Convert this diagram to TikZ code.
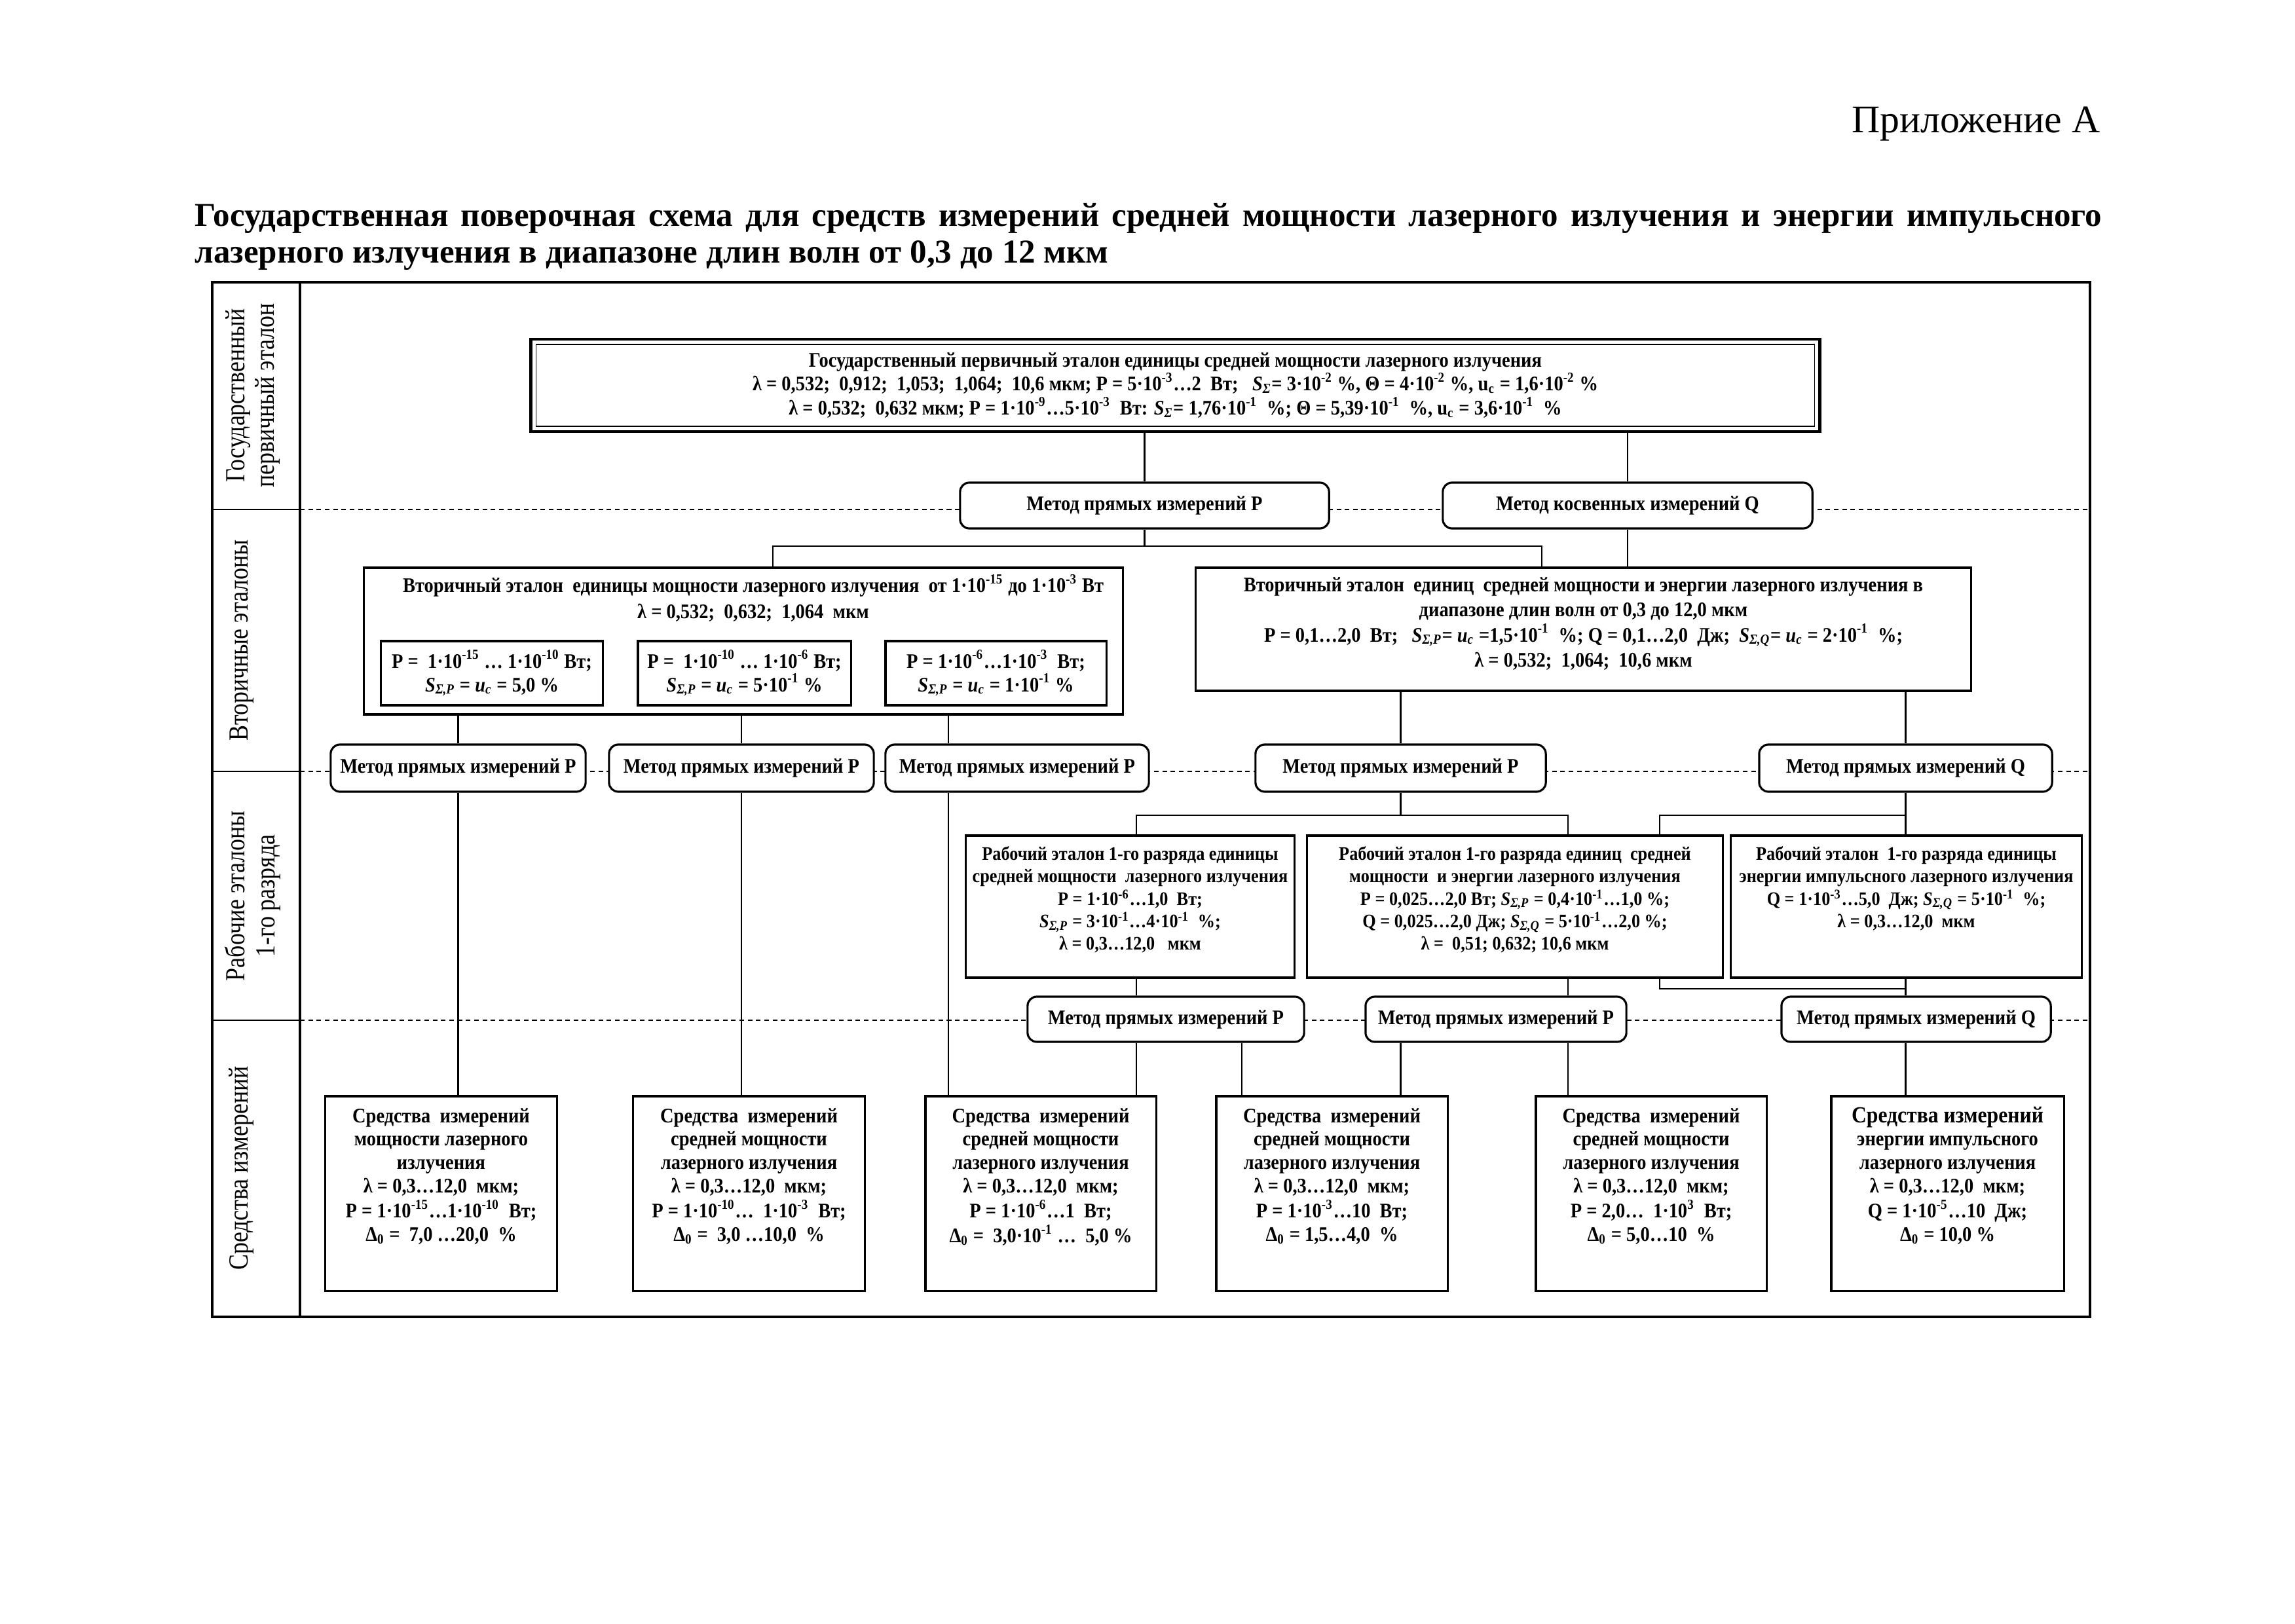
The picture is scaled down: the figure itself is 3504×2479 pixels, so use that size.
\documentclass[tikz,border=0pt]{standalone}
\usepackage{fontspec}
\setmainfont{Liberation Serif}
\newfontfamily\cf{Liberation Serif}[FakeStretch=0.9]
\newfontfamily\cfl{Liberation Serif}[FakeStretch=0.85]
\newcommand\fsz[2]{\fontsize{#1}{#2}\selectfont}
\newcommand\su[1]{\textsuperscript{#1}}
\newcommand\SP{\textit{S}\textsubscript{\textit{Σ,P}}}
\newcommand\SQ{\textit{S}\textsubscript{\textit{Σ,Q}}}
\newcommand\Ss{\textit{S}\textsubscript{\textit{Σ}}}
\newcommand\uc{\textit{u}\textsubscript{\textit{c}}}
\newcommand\uC{u\textsubscript{c}}
\newcommand\Dz{Δ\textsubscript{0}}
\newcommand\tb[4]{\parbox[c][#2][t]{#1}{\vspace*{#3}\centering\begin{tabular}{@{}c@{}}#4\end{tabular}\par}}
\begin{document}
\begin{tikzpicture}[x=0.01cm,y=-0.01cm,
  frm/.style={line width=0.9pt},
  colln/.style={line width=1.3pt},
  conn/.style={line width=0.6pt},
  dsh/.style={line width=0.8pt,dash pattern=on 2pt off 1.6pt},
  meth/.style={draw,line width=0.9pt,rounded corners=4pt,fill=white,inner sep=0pt,font=\cf\bfseries\fsz{9}{10.2}},
  bx/.style={draw,line width=0.9pt,fill=white,inner sep=0pt,outer sep=0pt},
  ws/.style={bx,font=\cf\bfseries\fsz{8.3}{9.8}},
  db/.style={bx,font=\cf\bfseries\fsz{9}{10.2}},
  sb/.style={bx,minimum height=0.98cm,align=center,font=\cf\bfseries\fsz{9}{10.2}},
  lbl/.style={rotate=90,align=center,inner sep=0pt,font=\cfl\fsz{12}{13}}]

\useasboundingbox (0,0) rectangle (3504,2479);

% header
\node[anchor=base east,inner sep=0pt,font=\fsz{17}{20}] (app) at (3207,203) {Приложение А};
\node[anchor=base west,inner sep=0pt,font=\bfseries\fsz{14.5}{17}] (h1) at (297,346) {\makebox[29.1cm][s]{Государственная поверочная схема для средств измерений средней мощности лазерного излучения и энергии импульсного}};
\node[anchor=base west,inner sep=0pt,font=\bfseries\fsz{14.5}{17}] (h2) at (297,402) {лазерного излучения в диапазоне длин волн от 0,3 до 12 мкм};

% frame and level separators
\draw[dsh] (458,778) -- (3191,778);
\draw[dsh] (458,1178) -- (3191,1178);
\draw[dsh] (458,1558) -- (3191,1558);
\draw[frm] (324,431) rectangle (3191,2011);
\draw[colln] (458,431) -- (458,2011);
\draw[conn] (324,778) -- (458,778);
\draw[conn] (324,1178) -- (458,1178);
\draw[conn] (324,1558) -- (458,1558);

% level labels
\node[lbl] (L1) at (386,604) {Государственный\\первичный эталон};
\node[lbl] (L2) at (369,978) {Вторичные эталоны};
\node[lbl] (L3) at (386,1368) {Рабочие эталоны\\1-го разряда};
\node[lbl] (L4) at (369,1784) {Средства измерений};

% primary standard
\node[bx,line width=1.3pt,minimum width=19.67cm,minimum height=1.41cm,align=center,font=\cf\bfseries\fsz{9}{10.5}] (prim) at (1794.5,588.5)
 {Государственный первичный эталон единицы средней мощности лазерного излучения\\
  λ = 0,532;\ \ 0,912;\ \ 1,053;\ \ 1,064;\ \ 10,6 мкм; P = 5·10\su{-3}…2\ \ Вт;\ \ \ \Ss= 3·10\su{-2} \%, Θ = 4·10\su{-2} \%, \uC{} = 1,6·10\su{-2} \%\\
  λ = 0,532;\ \ 0,632 мкм; P = 1·10\su{-9}…5·10\su{-3}\ \ Вт: \Ss= 1,76·10\su{-1}\ \ \%; Θ = 5,39·10\su{-1}\ \ \%, \uC{} = 3,6·10\su{-1}\ \ \%};
\draw[line width=0.5pt] ([shift={(8,8)}]prim.north west) rectangle ([shift={(-8,-8)}]prim.south east);

\node[meth,minimum width=5.63cm,minimum height=0.70cm] (mA) at (1747.5,772) {Метод прямых измерений P};
\node[meth,minimum width=5.64cm,minimum height=0.70cm] (mB) at (2485,772) {Метод косвенных измерений Q};

% secondary standards
\node[bx,font=\cf\bfseries\fsz{9}{11.3}] (sec1) at (1135,979) {\tb{11.58cm}{2.24cm}{0.1cm}{\hspace*{0.3cm}Вторичный эталон\ \ единицы мощности лазерного излучения\ \ от 1·10\su{-15} до 1·10\su{-3} Вт\\ \hspace*{0.3cm}λ = 0,532;\ \ 0,632;\ \ 1,064\ \ мкм}};
\node[sb,minimum width=3.38cm] (s1a) at (751,1028) {P =\ \ 1·10\su{-15} … 1·10\su{-10} Вт;\\ \SP{} = \uc{} = 5,0 \%};
\node[sb,minimum width=3.25cm] (s1b) at (1136.5,1028) {P =\ \ 1·10\su{-10} … 1·10\su{-6} Вт;\\ \SP{} = \uc{} = 5·10\su{-1} \%};
\node[sb,minimum width=3.37cm] (s1c) at (1520.5,1028) {P = 1·10\su{-6}…1·10\su{-3}\ \ Вт;\\ \SP{} = \uc{} = 1·10\su{-1} \%};

\node[bx,font=\cf\bfseries\fsz{9}{10.8}] (sec2) at (2417.5,961) {\tb{11.83cm}{1.88cm}{0.1cm}{Вторичный эталон\ \ единиц\ \ средней мощности и энергии лазерного излучения в\\ диапазоне длин волн от 0,3 до 12,0 мкм\\ P = 0,1…2,0\ \ Вт;\ \ \ \SP= \uc{} =1,5·10\su{-1}\ \ \%; Q = 0,1…2,0\ \ Дж;\ \ \SQ= \uc{} = 2·10\su{-1}\ \ \%;\\ λ = 0,532;\ \ 1,064;\ \ 10,6 мкм}};

% methods row 2
\node[meth,minimum width=3.89cm,minimum height=0.72cm] (M1) at (699.5,1173) {Метод прямых измерений P};
\node[meth,minimum width=4.04cm,minimum height=0.72cm] (M2) at (1132,1173) {Метод прямых измерений P};
\node[meth,minimum width=4.02cm,minimum height=0.72cm] (M3) at (1553,1173) {Метод прямых измерений P};
\node[meth,minimum width=4.43cm,minimum height=0.72cm] (M4) at (2138.5,1173) {Метод прямых измерений P};
\node[meth,minimum width=4.47cm,minimum height=0.72cm] (M5) at (2909.5,1173) {Метод прямых измерений Q};

% working standards
\node[ws] (WS1) at (1725.5,1384.5) {\tb{5.01cm}{2.17cm}{0.13cm}{Рабочий эталон 1-го разряда единицы\\ средней мощности\ \ лазерного излучения\\ P = 1·10\su{-6}…1,0\ \ Вт;\\ \SP{} = 3·10\su{-1}…4·10\su{-1}\ \ \%;\\ λ = 0,3…12,0\ \ \ мкм}};
\node[ws] (WS2) at (2313,1384.5) {\tb{6.34cm}{2.17cm}{0.13cm}{Рабочий эталон 1-го разряда единиц\ \ средней\\ мощности\ \ и энергии лазерного излучения\\ P = 0,025…2,0 Вт; \SP{} = 0,4·10\su{-1}…1,0 \%;\\ Q = 0,025…2,0 Дж; \SQ{} = 5·10\su{-1}…2,0 \%;\\ λ =\ \ 0,51; 0,632; 10,6 мкм}};
\node[ws] (WS3) at (2910.5,1384.5) {\tb{5.35cm}{2.17cm}{0.13cm}{Рабочий эталон\ \ 1-го разряда единицы\\ энергии импульсного лазерного излучения\\ Q = 1·10\su{-3}…5,0\ \ Дж; \SQ{} = 5·10\su{-1}\ \ \%;\\ λ = 0,3…12,0\ \ мкм}};

% methods row 3
\node[meth,minimum width=4.22cm,minimum height=0.69cm] (B1) at (1780,1556.5) {Метод прямых измерений P};
\node[meth,minimum width=3.98cm,minimum height=0.69cm] (B2) at (2284,1556.5) {Метод прямых измерений P};
\node[meth,minimum width=4.11cm,minimum height=0.69cm] (B3) at (2925.5,1556.5) {Метод прямых измерений Q};

% measuring instruments
\node[db] (D1) at (673.5,1822.5) {\tb{3.53cm}{2.97cm}{0.15cm}{Средства\ \ измерений\\ мощности лазерного\\ излучения\\ λ = 0,3…12,0\ \ мкм;\\ P = 1·10\su{-15}…1·10\su{-10}\ \ Вт;\\ \Dz{} =\ \ 7,0 …20,0\ \ \%}};
\node[db] (D2) at (1143.5,1822.5) {\tb{3.53cm}{2.97cm}{0.15cm}{Средства\ \ измерений\\ средней мощности\\ лазерного излучения\\ λ = 0,3…12,0\ \ мкм;\\ P = 1·10\su{-10}…\ \ 1·10\su{-3}\ \ Вт;\\ \Dz{} =\ \ 3,0 …10,0\ \ \%}};
\node[db] (D3) at (1589,1822.5) {\tb{3.52cm}{2.97cm}{0.15cm}{Средства\ \ измерений\\ средней мощности\\ лазерного излучения\\ λ = 0,3…12,0\ \ мкм;\\ P = 1·10\su{-6}…1\ \ Вт;\\ \Dz{} =\ \ 3,0·10\su{-1} …\ \ 5,0 \%}};
\node[db] (D4) at (2033.5,1822.5) {\tb{3.53cm}{2.97cm}{0.15cm}{Средства\ \ измерений\\ средней мощности\\ лазерного излучения\\ λ = 0,3…12,0\ \ мкм;\\ P = 1·10\su{-3}…10\ \ Вт;\\ \Dz{} = 1,5…4,0\ \ \%}};
\node[db] (D5) at (2521,1822.5) {\tb{3.52cm}{2.97cm}{0.15cm}{Средства\ \ измерений\\ средней мощности\\ лазерного излучения\\ λ = 0,3…12,0\ \ мкм;\\ P = 2,0…\ \ 1·10\su{3}\ \ Вт;\\ \Dz{} = 5,0…10\ \ \%}};
\node[db] (D6) at (2973.5,1822.5) {\tb{3.55cm}{2.97cm}{0.15cm}{{\fsz{10}{10.2}Средства измерений}\\ энергии импульсного\\ лазерного излучения\\ λ = 0,3…12,0\ \ мкм;\\ Q = 1·10\su{-5}…10\ \ Дж;\\ \Dz{} = 10,0 \%}};

% connectors
\coordinate (jL) at (1180,834);
\coordinate (jR) at (2354,834);
\coordinate (x3) at (1448,0);
\coordinate (x4) at (1896,0);
\coordinate (kL) at (1735,1245);
\coordinate (kR) at (2394,1245);
\coordinate (kQ) at (2534,1245);
\coordinate (kB) at (2534,1510);

\draw[conn] (prim.south -| mA.north) -- (mA.north);
\draw[conn] (prim.south -| mB.north) -- (mB.north);
\draw[conn] (mA.south) -- (mA.south |- jL);
\draw[conn] (jL |- sec1.north) -- (jL) -- (jR) -- (jR |- sec2.north);
\draw[conn] (mB.south) -- (mB.south |- sec2.north);

\draw[conn] (sec1.south -| M1.north) -- (M1.north);
\draw[conn] (sec1.south -| M2.north) -- (M2.north);
\draw[conn] (sec1.south -| x3) -- (M3.north -| x3);
\draw[conn] (sec2.south -| M4.north) -- (M4.north);
\draw[conn] (sec2.south -| M5.north) -- (M5.north);

\draw[conn] (M1.south) -- (M1.south |- D1.north);
\draw[conn] (M2.south) -- (M2.south |- D2.north);
\draw[conn] (M3.south -| x3) -- (D3.north -| x3);

\draw[conn] (M4.south) -- (M4.south |- kL);
\draw[conn] (kL |- WS1.north) -- (kL) -- (kR) -- (kR |- WS2.north);
\draw[conn] (M5.south) -- (M5.south |- WS3.north);
\draw[conn] (M5.south |- kQ) -- (kQ) -- (kQ |- WS2.north);

\draw[conn] (kL |- WS1.south) -- (kL |- B1.north);
\draw[conn] (kL |- B1.south) -- (kL |- D3.north);
\draw[conn] (x4 |- B1.south) -- (x4 |- D4.north);

\draw[conn] (kR |- WS2.south) -- (kR |- B2.north);
\draw[conn] (kR |- B2.south) -- (kR |- D5.north);
\draw[conn] (M4.south |- B2.south) -- (M4.south |- D4.north);

\draw[conn] (kQ |- WS2.south) -- (kB) -- (kB -| M5.south);
\draw[conn] (M5.south |- WS3.south) -- (M5.south |- B3.north);
\draw[conn] (M5.south |- B3.south) -- (M5.south |- D6.north);
\end{tikzpicture}
\end{document}
